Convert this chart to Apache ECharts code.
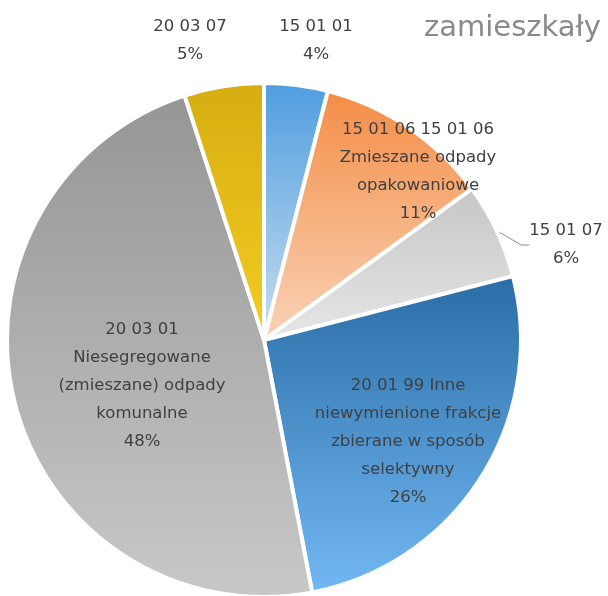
<!DOCTYPE html>
<html>
<head>
<meta charset="utf-8">
<script src="https://cdn.jsdelivr.net/npm/echarts@6/dist/echarts.min.js"></script>
<style>
html,body{margin:0;padding:0;background:#fff;}
#c{width:608px;height:596px;}
</style>
</head>
<body>
<div id="c"></div>
<script>
// Data
var categories = [
  '15 01 01',
  '15 01 06 15 01 06\nZmieszane odpady\nopakowaniowe',
  '15 01 07',
  '20 01 99 Inne\nniewymienione frakcje\nzbierane w sposób\nselektywny',
  '20 03 01\nNiesegregowane\n(zmieszane) odpady\nkomunalne',
  '20 03 07'
];
var values = [4, 11, 6, 26, 48, 5];
var titleText = 'zamieszkały';

// Styles (not data)
var gradients = [
  ['#4f9ddf', '#c9def0'],
  ['#f48d45', '#f9d3b8'],
  ['#c6c6c6', '#e6e6e6'],
  ['#2a6da6', '#72b8f3'],
  ['#959595', '#c8c8c8'],
  ['#d6ad12', '#f2cd22']
];
var labelPos = [
  [316, 41],
  [418, 172],
  [566, 245],
  [408, 442],
  [142, 386],
  [190, 41]
];

var data = values.map(function (v, i) {
  var item = {
    name: categories[i],
    value: v,
    itemStyle: {
      color: {
        type: 'linear', x: 0, y: 0, x2: 0, y2: 1,
        colorStops: [
          {offset: 0, color: gradients[i][0]},
          {offset: 1, color: gradients[i][1]}
        ]
      }
    },
    label: {},
    labelLine: {show: false}
  };
  if (i === 2) {
    item.labelLine = {show: true, length: 8, length2: 8, lineStyle: {color: '#8c8c8c', width: 1}};
  }
  return item;
});

var chart = echarts.init(document.getElementById('c'), null, {renderer: 'canvas'});
chart.setOption({
  animation: false,
  title: {
    text: titleText,
    left: 419,
    top: 9,
    textStyle: {fontFamily: 'DejaVu Sans', fontWeight: 'normal', fontSize: 29, color: '#8a8a8a'}
  },
  series: [{
    type: 'pie',
    center: [264, 340],
    radius: 257,
    startAngle: 90,
    clockwise: true,
    avoidLabelOverlap: false,
    itemStyle: {borderColor: '#ffffff', borderWidth: 4},
    label: {
      show: true,
      position: 'outside',
      formatter: function (p) { return p.name + '\n' + Math.round(p.percent) + '%'; },
      fontFamily: 'DejaVu Sans',
      fontSize: 16.5,
      lineHeight: 28,
      color: '#404040',
      align: 'center'
    },
    labelLayout: function (params) {
      var p = labelPos[params.dataIndex];
      return {x: p[0], y: p[1], align: 'center', verticalAlign: 'middle'};
    },
    data: data
  }]
});
</script>
</body>
</html>
